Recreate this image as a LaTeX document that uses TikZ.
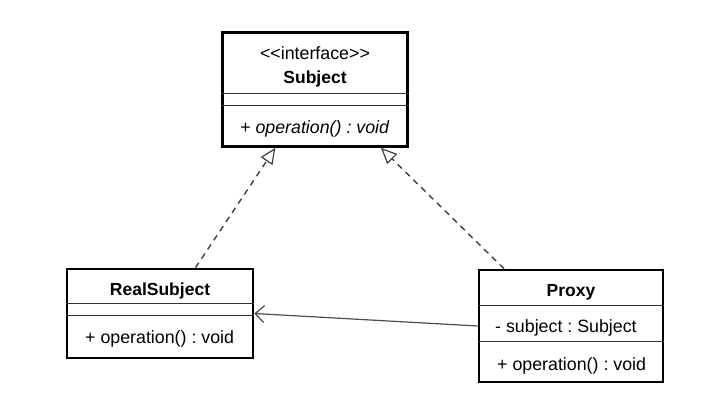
\documentclass[tikz,border=0pt]{standalone}
\usepackage{fontspec}
\setmainfont[Ligatures=NoCommon]{Liberation Sans}
\usetikzlibrary{arrows.meta,calc}
\frenchspacing
\begin{document}
\begin{tikzpicture}[x=1pt,y=-1pt,
  classbox/.style={draw=black,line width=2.6pt,fill=white,inner sep=0pt},
  divider/.style={draw=black!80,line width=1.3pt},
  title/.style={anchor=base,inner sep=0pt,font=\fontsize{17.5}{20}\selectfont\bfseries},
  member/.style={anchor=base west,inner sep=0pt,font=\fontsize{17.8}{20}\selectfont},
  stereo/.style={anchor=base,inner sep=0pt,font=\fontsize{17.8}{20}\selectfont},
  realize/.style={draw=black!75,line width=1.4pt,dash pattern=on 6pt off 5pt,
    -{Triangle[open,length=16pt,width=14pt,line width=1.2pt]}},
  assoc/.style={draw=black!70,line width=1.2pt,
    -{Straight Barb[length=9pt,width=17pt,line width=1.2pt]}}]
\useasboundingbox[fill=white] (0,0) rectangle (710,415);

% Subject interface
\node[classbox,minimum width=185,minimum height=114] (subject) at (315,89.5) {};
\draw[divider] ($(subject.north west)+(0,62)$) coordinate (sd1) -- (sd1 -| subject.east);
\draw[divider] ($(subject.north west)+(0,74)$) coordinate (sd2) -- (sd2 -| subject.east);
\node[stereo] (subjst) at (315,59.5) {{<}{<}interface{>}{>}};
\node[title] (subjname) at (315,83.3) {Subject};
\node[member,font=\fontsize{17.8}{20}\selectfont\itshape] (subjop) at (240,133) {+ operation() : void};

% RealSubject class
\node[classbox,minimum width=186,minimum height=89] (real) at (160,313.5) {};
\draw[divider] ($(real.north west)+(0,36)$) coordinate (rd1) -- (rd1 -| real.east);
\draw[divider] ($(real.north west)+(0,48)$) coordinate (rd2) -- (rd2 -| real.east);
\node[title] (realname) at (160,295) {RealSubject};
\node[member] (realop) at (85,343.3) {+ operation() : void};

% Proxy class
\node[classbox,minimum width=184,minimum height=112] (proxy) at (571,326) {};
\draw[divider] ($(proxy.north west)+(0,37)$) coordinate (pd1) -- (pd1 -| proxy.east);
\draw[divider] ($(proxy.north west)+(0,73)$) coordinate (pd2) -- (pd2 -| proxy.east);
\node[title] (proxyname) at (571,296.7) {Proxy};
\node[member] (proxyattr) at (495,332.7) {- subject : Subject};
\node[member] (proxyop) at (497,370) {+ operation() : void};

% Realizations
\draw[realize] ($(real.north west)!0.688!(real.north east)$) -- ($(subject.south west)!0.289!(subject.south east)$);
\draw[realize] ($(proxy.north west)!0.141!(proxy.north east)$) -- ($(subject.south west)!0.851!(subject.south east)$);

% Association
\draw[assoc] (proxy.west) -- (real.east);
\end{tikzpicture}
\end{document}
